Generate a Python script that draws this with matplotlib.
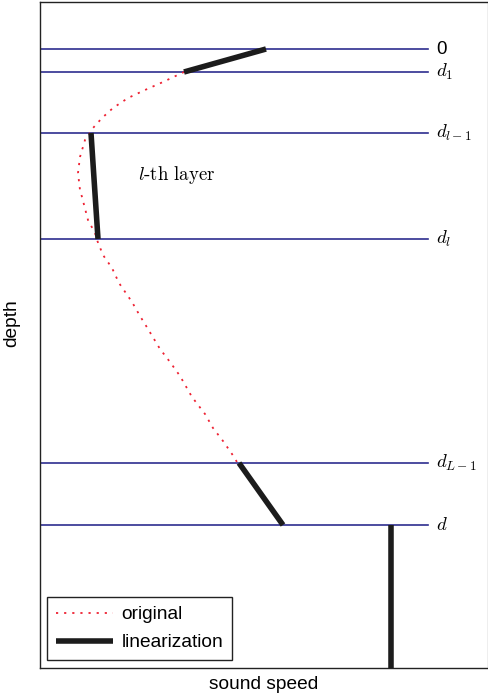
import matplotlib.pyplot as plt

plt.rcParams['font.family'] = ['Liberation Sans', 'DejaVu Sans']
plt.rcParams['mathtext.fontset'] = 'cm'

# --- data (sound speed in arbitrary units, depth increasing downward) ---
layer_depths = [47, 70, 131, 237, 461, 523]
layer_labels = ["0", r"$d_1$", r"$d_{l-1}$", r"$d_l$", r"$d_{L-1}$", r"$d$"]

orig_speed = [144, 123, 105, 88, 73, 62, 53, 50, 45, 40, 38, 40, 42, 48, 55, 57,
              63, 72, 79, 92, 100, 108, 120, 130, 140, 152, 165, 173, 183, 192, 197]
orig_depth = [70, 80, 88, 96, 106, 116, 126, 131, 138, 155, 171, 188, 195, 218, 231, 238,
              253, 266, 281, 300, 314, 327, 347, 360, 374, 395, 412, 426, 439, 452, 460]

# linearized segments: (speed pair, depth pair)
lin_speed = [[226, 144], [51, 58], [199, 243], [351, 351]]
lin_depth = [[47, 70], [131, 237], [461, 523], [523, 666]]

max_depth = 666
x_max = 448
line_end = 388

fig = plt.figure(figsize=(4.89, 6.97), dpi=100)
ax = fig.add_axes([40 / 489, 29 / 697, 448 / 489, 666 / 697])

for d in layer_depths:
    ax.plot([0, line_end], [d, d], color='#2e2e8f', lw=1.2, zorder=1)
for d, lab in zip(layer_depths, layer_labels):
    ax.text(line_end + 8, d, lab, fontsize=13.5, ha='left', va='center')

ax.plot(orig_speed, orig_depth, color='#ee2233', lw=1.3, dashes=(1.2, 3.3),
        label='original', zorder=2)
for i, (xs, ys) in enumerate(zip(lin_speed, lin_depth)):
    ax.plot(xs, ys, color='#1c1c1c', lw=4, solid_capstyle='butt',
            label='linearization' if i == 0 else None, zorder=3)

ax.text(98, 173, r"$l\text{-th layer}$", fontsize=13.5, ha='left', va='center')

ax.set_xlim(0, x_max)
ax.set_ylim(max_depth, 0)
ax.set_xticks([])
ax.set_yticks([])
for s in ['left', 'top', 'bottom']:
    ax.spines[s].set_color('#222222')
    ax.spines[s].set_linewidth(1.0)
ax.spines['right'].set_color('#aaaaaa')
ax.spines['right'].set_linewidth(1.0)

ax.set_xlabel('sound speed', fontsize=13.8, labelpad=6)
ax.set_ylabel('depth', fontsize=13.8, labelpad=6)
ax.yaxis.set_label_coords(-0.045, 0.518)

leg = ax.legend(loc='lower left', bbox_to_anchor=(0.0156, 0.012), borderaxespad=0,
                fontsize=13.8, handlelength=3.0, fancybox=False, framealpha=1,
                edgecolor='#222222', borderpad=0.45, labelspacing=0.55, handletextpad=0.45)
leg.get_frame().set_linewidth(1.0)

fig.savefig('out.png', dpi=100)
